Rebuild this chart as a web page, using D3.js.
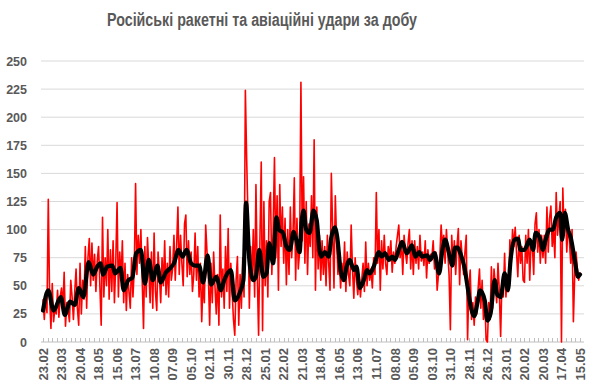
<!DOCTYPE html>
<html><head><meta charset="utf-8">
<script src="https://cdn.jsdelivr.net/npm/d3@7"></script>
<style>body{margin:0;background:#fff}</style>
</head><body>
<svg id="c" width="590" height="392"></svg>
<script>
const title = "Російські ракетні та авіаційні удари за добу";
const xLabels = ["23.02","23.03","20.04","18.05","15.06","13.07","10.08","07.09","05.10","02.11","30.11","28.12","25.01","22.02","21.03","18.04","16.05","13.06","11.07","08.08","05.09","03.10","31.10","28.11","26.12","23.01","20.02","20.03","17.04","15.05"];
const yTicks = [0,25,50,75,100,125,150,175,200,225,250];
const redStep = 2;
const strikes = [
38,20,42,26,127,40,12,52,18,30,25,46,22,40,
48,30,62,14,35,28,18,55,40,20,45,65,30,15,
70,25,55,38,85,30,75,92,50,88,55,78,45,72,
85,50,15,111,40,75,50,100,38,82,45,90,35,70,
124,40,80,55,90,35,70,28,60,45,30,75,40,65,
141,60,95,70,100,55,12,85,40,93,65,35,80,30,
97,45,28,80,60,35,75,50,90,42,70,40,85,55,
65,95,55,85,120,60,95,70,50,105,113,58,90,60,
80,45,60,97,55,85,40,70,18,55,35,104,80,60,
15,70,35,80,50,25,60,15,113,40,65,30,85,45,
101,30,70,45,20,6,55,76,15,60,30,75,40,224,
162,110,30,85,55,100,40,140,60,6,90,160,10,125,
50,90,40,125,133,60,100,164,75,130,46,140,85,120,
70,110,51,100,60,120,75,95,146,55,110,65,80,231,
90,147,70,125,60,105,85,130,75,180,46,120,65,95,
55,90,60,85,50,95,70,46,150,100,48,130,90,60,
75,48,70,55,89,45,80,60,50,104,65,39,75,55,
42,60,40,55,70,45,89,50,70,55,65,48,75,60,
133,70,100,46,90,65,95,70,60,85,75,90,62,80,
70,85,95,104,75,90,60,95,80,70,88,100,65,90,
60,90,70,85,65,95,72,80,68,90,57,82,70,78,
75,90,65,80,46,60,75,104,85,95,70,100,80,60,
11,95,70,90,60,85,101,51,90,75,60,80,95,2,
50,64,20,35,15,40,25,48,65,30,55,20,40,2,
0,35,20,67,30,65,50,35,70,45,5,55,40,79,
40,60,45,91,70,100,85,102,80,58,95,70,85,55,
53,95,70,100,55,90,85,60,105,115,80,100,70,95,
75,95,70,120,80,110,121,85,100,75,133,95,110,125,
0,137,95,118,80,105,90,70,100,18,60,80,65,55,62];
const avgDay = [0,8,16,27,33,41,48,54,61,69,76,82,87,91,97,105,109,117,122,129,135,141,148,154,160,166,173,178,186,193,198,205,211,217,224,230,236,242,249,254,262,269,274,284,290,297,303,307,312,318,322,327,333,338,342,348,353,357,363,368,373,379,383,388,391,394,398,403,409,414,418,421,426,432,436,441,445,450,455,459,464,470,474,479,485,490,494,500,508,512,517,523,528,532,538,543,550,558,563,569,573,581,585,592,599,604,608,614,619,623,627,631,637,642,646,652,657,661,668,672,677,683,687,692,698,703,707,713,718,722,728,736,741,745,751,756,760,766,771,776,782,785,789,794,798,804,809,812];
const avgVal = [28,46,28,40,24,36,33,48,40,71,60,67,70,60,67,68,61,66,46,55,57,79,82,52,73,55,68,53,62,66,70,82,76,82,70,68,68,53,77,51,58,46,55,64,37,43,55,124,73,55,58,82,58,61,88,70,111,100,97,85,82,98,91,80,106,117,100,97,117,108,82,76,80,76,93,102,93,64,55,67,73,64,67,48,55,64,61,67,80,76,79,73,76,73,82,89,79,86,76,80,76,77,73,79,61,82,91,79,68,84,84,79,67,49,34,23,35,46,37,19,26,55,42,40,61,46,73,91,92,82,82,91,82,97,93,82,91,100,100,111,115,91,115,100,93,73,58,60];

const svg = d3.select("#c");
const lastDay = 28 * (xLabels.length - 1);
const x = d3.scaleLinear().domain([0, lastDay]).range([43, 580]);
const y = d3.scaleLinear().domain([0, 250]).range([342, 61]);

// gridlines
svg.append("g").selectAll("line").data(yTicks.filter(d => d > 0)).join("line")
  .attr("x1", 41).attr("x2", 584).attr("y1", d => y(d)).attr("y2", d => y(d))
  .attr("stroke", "#d9d9d9").attr("stroke-width", 1);

// y labels
svg.append("g").selectAll("text").data(yTicks).join("text")
  .attr("x", 27).attr("y", d => y(d)).attr("dy", "0.36em").attr("text-anchor", "end")
  .attr("font-family", "Liberation Sans, Arial, sans-serif").attr("font-weight", "bold")
  .attr("font-size", 12.5).attr("fill", "#595959").text(d => d);

// x axis line + ticks
svg.append("line").attr("x1", 41).attr("x2", 584).attr("y1", y(0)).attr("y2", y(0))
  .attr("stroke", "#bfbfbf").attr("stroke-width", 1);
svg.append("g").selectAll("line").data(d3.range(0, lastDay + 1, 7)).join("line")
  .attr("x1", d => Math.round(x(d)) + 0.5).attr("x2", d => Math.round(x(d)) + 0.5)
  .attr("y1", y(0) - 4).attr("y2", y(0)).attr("stroke", "#bfbfbf").attr("stroke-width", 1);

// x labels
svg.append("g").selectAll("text").data(xLabels).join("text")
  .attr("transform", (d, i) => `translate(${x(i * 28)},348) rotate(-90)`)
  .attr("dy", "0.36em").attr("text-anchor", "end")
  .attr("font-family", "Liberation Sans, Arial, sans-serif").attr("font-weight", "bold")
  .attr("font-size", 13).attr("fill", "#595959").text(d => d);

// red daily series
const redLine = d3.line().x((d, i) => x(i * redStep)).y(d => y(d));
svg.append("path").datum(strikes).attr("d", redLine)
  .attr("fill", "none").attr("stroke", "#ff0000").attr("stroke-width", 1.6).attr("stroke-linejoin", "round");

// black moving average
const avgLine = d3.line().x((d, i) => x(avgDay[i])).y(d => y(d)).curve(d3.curveMonotoneX);
svg.append("path").datum(avgVal).attr("d", avgLine)
  .attr("fill", "none").attr("stroke", "#000").attr("stroke-width", 4.2).attr("stroke-linejoin", "round").attr("stroke-linecap", "round");

// title
svg.append("text").attr("x", 262).attr("y", 26).attr("text-anchor", "middle")
  .attr("font-family", "Liberation Sans, Arial, sans-serif")
  .attr("font-weight", "bold").attr("font-size", 17.5).attr("fill", "#595959")
  .attr("textLength", 310).attr("lengthAdjust", "spacingAndGlyphs").text(title);
</script>
</body></html>
